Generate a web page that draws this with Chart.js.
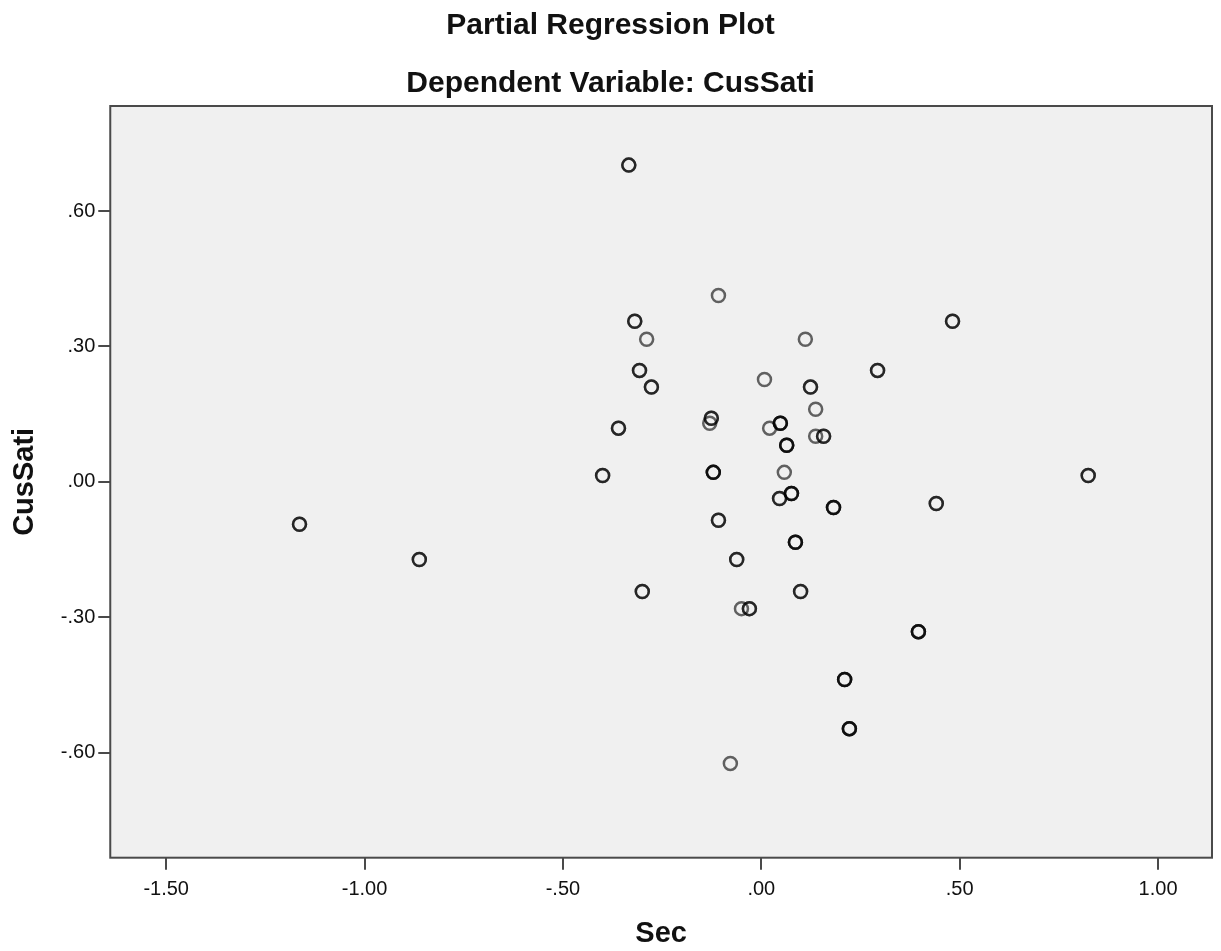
<!DOCTYPE html>
<html>
<head>
<meta charset="utf-8">
<title>Partial Regression Plot</title>
<script src="https://cdn.jsdelivr.net/npm/chart.js@4/dist/chart.umd.min.js"></script>
<style>
  html, body { margin: 0; padding: 0; background: #fff; }
  #plot { display: block; }
</style>
</head>
<body>
<canvas id="plot" width="1221" height="951"></canvas>
<script>
// Partial regression residuals (repeated pairs are tied cases)
const secValues = [
  -0.334, -0.334, -0.108, -0.319, -0.319, -0.289, 0.482, 0.482, 0.111,
  -0.307, -0.307, -0.277, -0.277, 0.008, 0.293, 0.293, 0.124, 0.124, 0.137,
  -0.126, -0.126, -0.130, -0.360, -0.360, 0.021, 0.048, 0.048, 0.048,
  0.064, 0.064, 0.064, 0.137, 0.157, 0.157, -0.400, -0.400,
  -0.121, -0.121, -0.121, 0.058, 0.046, 0.046, 0.076, 0.076, 0.076,
  0.182, 0.182, 0.182, 0.441, 0.441, 0.824, 0.824, -1.164, -1.164,
  -0.108, -0.108, 0.086, 0.086, 0.086, -0.862, -0.862, -0.062, -0.062,
  -0.300, -0.300, 0.099, 0.099, -0.050, -0.030, -0.030,
  0.396, 0.396, 0.396, 0.210, 0.210, 0.210, 0.222, 0.222, 0.222, -0.078
];
const cusSatiValues = [
  0.702, 0.702, 0.413, 0.356, 0.356, 0.316, 0.356, 0.356, 0.316,
  0.247, 0.247, 0.210, 0.210, 0.227, 0.247, 0.247, 0.210, 0.210, 0.161,
  0.141, 0.141, 0.130, 0.119, 0.119, 0.119, 0.130, 0.130, 0.130,
  0.081, 0.081, 0.081, 0.101, 0.101, 0.101, 0.014, 0.014,
  0.021, 0.021, 0.021, 0.021, -0.037, -0.037, -0.026, -0.026, -0.026,
  -0.057, -0.057, -0.057, -0.048, -0.048, 0.014, 0.014, -0.094, -0.094,
  -0.085, -0.085, -0.134, -0.134, -0.134, -0.172, -0.172, -0.172, -0.172,
  -0.243, -0.243, -0.243, -0.243, -0.281, -0.281, -0.281,
  -0.332, -0.332, -0.332, -0.438, -0.438, -0.438, -0.547, -0.547, -0.547, -0.624
];

const xTicks = [-1.5, -1.0, -0.5, 0, 0.5, 1.0];
const yTicks = [-0.6, -0.3, 0, 0.3, 0.6];

const FONT = "'Liberation Sans', Arial, sans-serif";
const FRAME = "#4a4a4a";

// SPSS style numbers: two decimals, no leading zero
function spssNumber(v) {
  const s = Math.abs(v).toFixed(2).replace(/^0/, "");
  return (v < -1e-9 ? "-" : "") + s;
}

// grey plot background plus the box around it
const frameBox = {
  id: "frameBox",
  beforeDatasetsDraw(chart) {
    const { ctx, chartArea: a } = chart;
    ctx.save();
    ctx.fillStyle = "#f0f0f0";
    ctx.fillRect(a.left, a.top, a.right - a.left, a.bottom - a.top);
    ctx.restore();
  },
  afterDraw(chart) {
    const { ctx, chartArea: a } = chart;
    ctx.save();
    ctx.strokeStyle = FRAME;
    ctx.lineWidth = 2;
    ctx.strokeRect(a.left, a.top, a.right - a.left, a.bottom - a.top);
    ctx.restore();
  }
};

function axisOptions(ticks, min, max, title, tickPadding, titlePadding) {
  return {
    type: "linear",
    min,
    max,
    afterBuildTicks(scale) {
      scale.ticks = ticks.map((v) => ({ value: v }));
    },
    border: { display: false },
    grid: {
      drawOnChartArea: false,
      drawTicks: true,
      tickLength: 12,
      tickColor: FRAME,
      tickWidth: 2,
      lineWidth: 2,
      color: FRAME
    },
    ticks: {
      color: "#111",
      padding: tickPadding,
      font: { family: FONT, size: 20 },
      callback: (v) => spssNumber(v)
    },
    title: {
      display: true,
      text: title,
      color: "#111",
      padding: titlePadding,
      font: { family: FONT, size: 29, weight: "bold" }
    }
  };
}

new Chart(document.getElementById("plot"), {
  type: "scatter",
  data: {
    datasets: [
      {
        data: secValues.map((x, i) => ({ x, y: cusSatiValues[i] })),
        pointStyle: "circle",
        pointRadius: 6.5,
        pointHoverRadius: 6.5,
        borderWidth: 2.5,
        borderColor: "rgba(0, 0, 0, 0.6)",
        backgroundColor: "rgba(0, 0, 0, 0)"
      }
    ]
  },
  plugins: [frameBox],
  options: {
    responsive: false,
    animation: false,
    layout: { padding: { left: 8, right: 8, top: 0, bottom: 0 } },
    plugins: {
      legend: { display: false },
      tooltip: { enabled: false },
      title: {
        display: true,
        text: "Partial Regression Plot",
        color: "#111",
        font: { family: FONT, size: 30, weight: "bold", lineHeight: 1.0 },
        padding: { top: 11.2, bottom: 14 }
      },
      subtitle: {
        display: true,
        text: "Dependent Variable: CusSati",
        color: "#111",
        font: { family: FONT, size: 30, weight: "bold", lineHeight: 1.0 },
        padding: { top: 13.3, bottom: 7.5 }
      }
    },
    scales: {
      x: axisOptions(xTicks, -1.641, 1.136, "Sec", 7.5, { top: 7.5, bottom: 0 }),
      y: axisOptions(yTicks, -0.833, 0.833, "CusSati", 3, { top: 0, bottom: 15 })
    }
  }
});
</script>
</body>
</html>
